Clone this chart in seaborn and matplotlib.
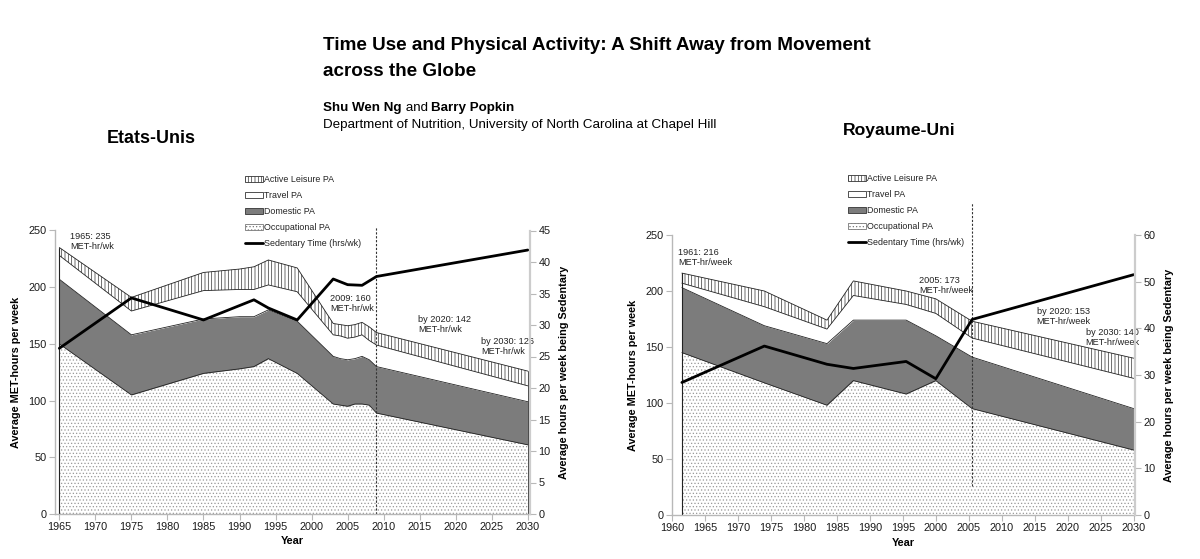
import numpy as np
import matplotlib
matplotlib.use("Agg")
import matplotlib.pyplot as plt
from matplotlib.patches import Patch
from matplotlib.lines import Line2D
import seaborn as sns

# Etats-Unis : MET-hr/week by domain
us_years = [1965, 1975, 1985, 1990, 1992, 1994, 1998, 2003, 2004, 2005, 2006, 2007, 2008, 2009, 2030]
us_occ = [150, 105, 124, 128, 130, 137, 124, 97, 96, 95, 97, 97, 96, 89, 61]
us_dom = [57, 53, 48, 46, 44, 43, 46, 42, 41, 41, 40, 42, 40, 41, 38]
us_travel = [21, 21, 25, 24, 24, 22, 26, 19, 20, 19, 19, 19, 17, 19, 14]
us_leisure = [7, 12, 16, 18, 20, 22, 21, 10, 10, 11, 11, 11, 12, 11, 13]
us_sed_years = [1965, 1975, 1985, 1992, 1994, 1998, 2003, 2005, 2007, 2009, 2030]
us_sed = [26.3, 34.3, 30.8, 34.0, 32.7, 30.8, 37.3, 36.4, 36.3, 37.7, 41.9]

# Royaume-Uni
uk_years = [1961.5, 1974, 1983.5, 1987.5, 1995.5, 2000, 2005.5, 2030]
uk_occ = [145, 118, 98, 120, 108, 120, 95, 58]
uk_dom = [58, 51, 55, 54, 66, 40, 46, 37]
uk_travel = [4, 17, 13, 22, 14, 20, 17, 27]
uk_leisure = [9, 14, 8, 13, 12, 13, 15, 18]
uk_sed = [28.4, 36.2, 32.3, 31.4, 32.9, 29.2, 41.9, 51.5]

legend_labels = ["Active Leisure PA", "Travel PA", "Domestic PA", "Occupational PA", "Sedentary Time (hrs/wk)"]

sns.set_style("ticks")
plt.rcParams["font.family"] = ["Liberation Sans", "DejaVu Sans"]
plt.rcParams["hatch.linewidth"] = 0.5
plt.rcParams["text.color"] = "black"
plt.rcParams["axes.labelcolor"] = "black"

DOM_GREY = "#7c7c7c"
SPINE = "#b8b8b8"

fig = plt.figure(figsize=(12, 5.59), dpi=100)


def draw_panel(rect, years, occ, dom, travel, leisure, sed_years, sed, xlim, right_max, right_step,
               cut_year, cut_span, notes, legend_xy):
    ax = fig.add_axes(rect)
    layers = np.cumsum([occ, dom, travel, leisure], axis=0)
    zero = np.zeros(len(years))

    ax.fill_between(years, zero, layers[0], facecolor="white", hatch=".....", edgecolor="#999999", linewidth=0)
    ax.fill_between(years, layers[0], layers[1], facecolor=DOM_GREY, linewidth=0)
    ax.fill_between(years, layers[1], layers[2], facecolor="white", linewidth=0)
    ax.fill_between(years, layers[2], layers[3], facecolor="white", hatch="|||||", edgecolor="#333333", linewidth=0)
    for top in layers:
        ax.plot(years, top, color="#222222", lw=0.6)
    ax.plot([years[0], years[0]], [0, layers[3][0]], color="#222222", lw=0.8)
    ax.plot([years[-1], years[-1]], [0, layers[3][-1]], color="#222222", lw=0.6)

    # projection start
    ax.plot([cut_year, cut_year], cut_span, color="#333333", lw=0.8, ls=(0, (2, 1.5)), clip_on=False)

    ax.set_xlim(*xlim)
    ax.set_ylim(0, 250)
    ax.set_yticks(range(0, 251, 50))
    ax.set_xticks(range(int(np.ceil(xlim[0] / 5) * 5), 2031, 5))
    ax.set_xlabel("Year", fontsize=7.8, fontweight="bold", labelpad=3)
    ax.set_ylabel("Average MET-hours per week", fontsize=7.8, fontweight="bold", labelpad=5)
    ax.tick_params(axis="both", direction="out", length=4, width=0.8, color=SPINE, labelsize=7.8, pad=2,
                   labelcolor="#1a1a1a")
    for side in ["top", "right"]:
        ax.spines[side].set_visible(False)
    for side in ["left", "bottom"]:
        ax.spines[side].set_color(SPINE)
        ax.spines[side].set_linewidth(1.0)

    for x, y, txt in notes:
        ax.text(x, y, txt, fontsize=6.6, color="#222222", va="top", ha="left", linespacing=1.15)

    ax2 = ax.twinx()
    sns.lineplot(x=sed_years, y=sed, ax=ax2, color="black", lw=2.0)
    ax2.set_ylim(0, right_max)
    ax2.set_yticks(range(0, right_max + 1, right_step))
    ax2.set_ylabel("Average hours per week being Sedentary", fontsize=7.8, fontweight="bold", labelpad=6)
    ax2.tick_params(axis="y", direction="out", length=4, width=0.8, color=SPINE, labelsize=7.8, pad=2,
                    labelcolor="#1a1a1a")
    for side in ["top", "left", "bottom"]:
        ax2.spines[side].set_visible(False)
    ax2.spines["right"].set_color("#cccccc")
    ax2.spines["right"].set_linewidth(1.6)

    handles = [
        Patch(facecolor="white", edgecolor="#333333", hatch="|||||", lw=0.6),
        Patch(facecolor="white", edgecolor="#333333", lw=0.6),
        Patch(facecolor=DOM_GREY, edgecolor="#333333", lw=0.6),
        Patch(facecolor="white", edgecolor="#777777", hatch=".....", lw=0.6),
        Line2D([0], [0], color="black", lw=2.0),
    ]
    leg = fig.legend(handles, legend_labels, loc="upper left", bbox_to_anchor=legend_xy, frameon=False,
                     fontsize=6.4, handlelength=2.0, handleheight=0.65, handletextpad=0.15, labelspacing=0.8,
                     borderpad=0, borderaxespad=0)
    for t in leg.get_texts():
        t.set_color("#222222")
    return ax


draw_panel([55 / 1200, 1 - 514 / 559, 475 / 1200, 283.5 / 559],
           us_years, us_occ, us_dom, us_travel, us_leisure, us_sed_years, us_sed,
           (1964.4, 2030.3), 45, 5, 2009, [0, 253],
           [(1966.5, 248.5, "1965: 235\nMET-hr/wk"),
            (2002.6, 194, "2009: 160\nMET-hr/wk"),
            (2014.8, 175.5, "by 2020: 142\nMET-hr/wk"),
            (2023.5, 156.3, "by 2030: 126\nMET-hr/wk")],
           (245 / 1200, 1 - 175 / 559))

draw_panel([672 / 1200, 1 - 515 / 559, 463 / 1200, 280 / 559],
           uk_years, uk_occ, uk_dom, uk_travel, uk_leisure, uk_years, uk_sed,
           (1960, 2030.2), 60, 10, 2005.5, [26, 279],
           [(1960.9, 238, "1961: 216\nMET-hr/week"),
            (1997.5, 213.4, "2005: 173\nMET-hr/week"),
            (2015.3, 186, "by 2020: 153\nMET-hr/week"),
            (2022.7, 166.7, "by 2030: 140\nMET-hr/week")],
           (848 / 1200, 1 - 174 / 559))

# header
fig.text(323 / 1200, 1 - 45 / 559, "Time Use and Physical Activity: A Shift Away from Movement",
         fontsize=13.6, fontweight="bold", va="center", ha="left")
fig.text(323 / 1200, 1 - 72 / 559, "across the Globe", fontsize=13.6, fontweight="bold", va="center", ha="left")
t1 = fig.text(323 / 1200, 1 - 108 / 559, "Shu Wen Ng", fontsize=9.6, fontweight="bold", va="center", ha="left")
t2 = fig.text(0, 0, " and ", fontsize=9.6, va="bottom", ha="left")
t3 = fig.text(0, 0, "Barry Popkin", fontsize=9.6, fontweight="bold", va="bottom", ha="left")
fig.canvas.draw()
r = fig.canvas.get_renderer()
bb1 = t1.get_window_extent(r).transformed(fig.transFigure.inverted())
t2.set_position((bb1.x1, bb1.y0))
bb2 = t2.get_window_extent(r).transformed(fig.transFigure.inverted())
t3.set_position((bb2.x1, bb1.y0))
fig.text(323 / 1200, 1 - 125 / 559, "Department of Nutrition, University of North Carolina at Chapel Hill",
         fontsize=9.6, va="center", ha="left")

fig.text(151 / 1200, 1 - 138 / 559, "Etats-Unis", fontsize=12.9, fontweight="bold", ha="center", va="center")
fig.text(899 / 1200, 1 - 130 / 559, "Royaume-Uni", fontsize=12.6, fontweight="bold", ha="center", va="center")

fig.savefig("out.png", dpi=100)
